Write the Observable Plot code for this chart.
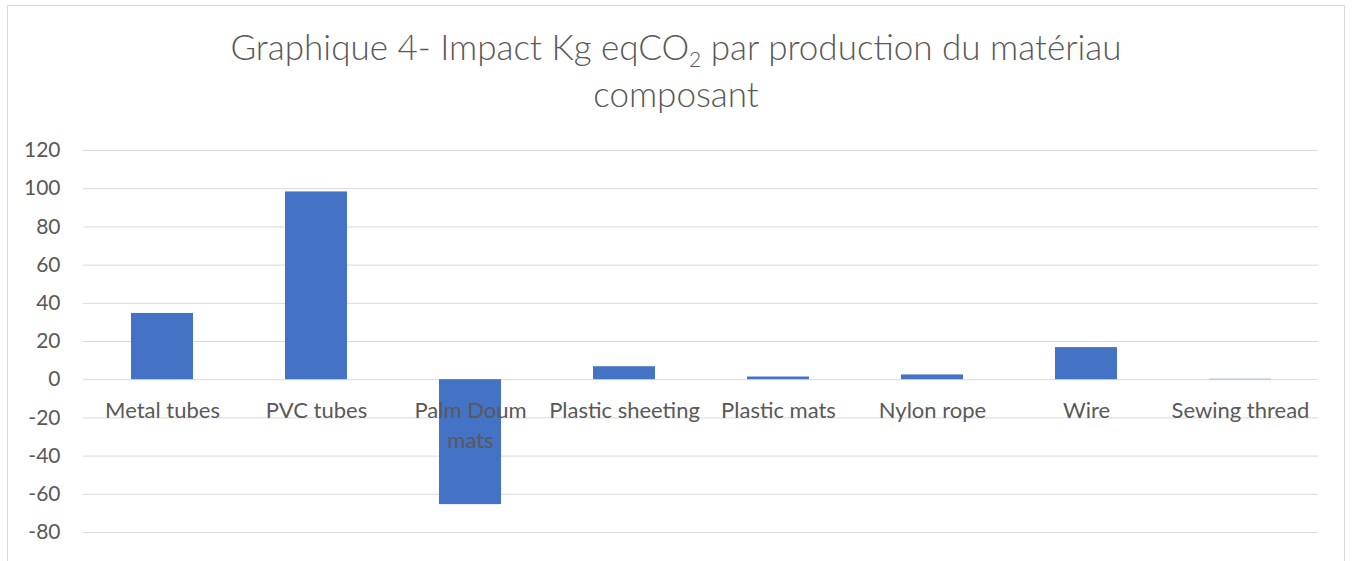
<!DOCTYPE html>
<html>
<head>
<meta charset="utf-8">
<script src="https://cdn.jsdelivr.net/npm/d3@7"></script>
<script src="https://cdn.jsdelivr.net/npm/@observablehq/plot@0.6"></script>
<style>
  html, body { margin: 0; padding: 0; background: #fff; }
  #wrap { position: relative; width: 1352px; height: 561px; overflow: hidden; font-family: Lato, "Open Sans", sans-serif; }
  #frame { position: absolute; left: 7px; top: 5px; width: 1338px; height: 600px; border: 1.5px solid #d9d9d9; box-sizing: border-box; }
  #title { position: absolute; left: 0; top: 23px; width: 1352px; text-align: center; color: #595959; font-size: 35px; font-weight: 300; line-height: 47px; }
  #title sub { font-size: 0.6em; vertical-align: -0.35em; line-height: 0; }
  #chart { position: absolute; left: 0; top: 120px; }
</style>
</head>
<body>
<div id="wrap">
  <div id="frame"></div>
  <div id="title">Graphique 4- Impact Kg eqCO<sub>2</sub> par production du matériau<br>composant</div>
  <div id="chart"></div>
</div>
<script>
const categories = ["Metal tubes", "PVC tubes", "Palm Doum\nmats", "Plastic sheeting", "Plastic mats", "Nylon rope", "Wire", "Sewing thread"];
const values = [34.7, 98.3, -65.4, 6.8, 1.4, 2.5, 16.8, 0.2];
const yTicks = [-80, -60, -40, -20, 0, 20, 40, 60, 80, 100, 120];

const data = categories.map((c, i) => ({category: c, value: values[i]}));

const chart = Plot.plot({
  width: 1352,
  height: 441,
  marginLeft: 83,
  marginRight: 34,
  marginTop: 30,
  marginBottom: 29,
  style: {fontFamily: "Lato, 'Open Sans', sans-serif", fontSize: "22px", color: "#595959", background: "transparent"},
  x: {domain: categories, paddingInner: 0.6, paddingOuter: 0.3, axis: null},
  y: {domain: [-80, 120], axis: null},
  marks: [
    Plot.gridY(yTicks, {stroke: "#d9d9d9", strokeOpacity: 1, strokeWidth: 1}),
    Plot.axisY(yTicks, {tickSize: 0, tickPadding: 23, tickFormat: d => String(d), label: null, fontSize: 21, fill: "#595959"}),
    Plot.barY(data, {x: "category", y: "value", fill: "#4472C4"}),
    Plot.text(data, {x: "category", y: () => 0, text: "category", lineAnchor: "top", dy: 16, lineHeight: 1.4, fontSize: 22, fill: "#595959", textAnchor: "middle"})
  ]
});
document.getElementById("chart").appendChild(chart);
</script>
</body>
</html>
